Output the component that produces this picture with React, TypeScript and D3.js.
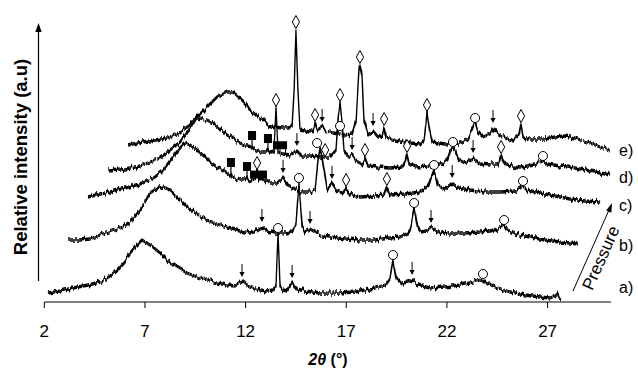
import * as d3 from "d3";

const W = 638;
const H = 370;
const FONT = "'Liberation Sans', Arial, Helvetica, sans-serif";

// x ticks (2θ, degrees)
const tickValues = [2, 7, 12, 17, 22, 27];
const seriesLabels = ["a)", "b)", "c)", "d)", "e)"];

// diffraction patterns: [2θ, relative intensity]
const patternA: [number, number][] = [
  [2.18, 1], [2.78, 3], [3.42, 6], [4.17, 9], [4.77, 12], [5.27, 18], [5.61, 24], [6.01, 33],
  [6.26, 41], [6.61, 49], [6.85, 54], [7.1, 51], [7.4, 47], [7.75, 41], [8.1, 34], [8.59, 27],
  [9.09, 21], [9.59, 17], [10.08, 14], [10.58, 11], [11.08, 9], [11.47, 8], [11.82, 12], [12.07, 8],
  [12.47, 5], [13.06, 3], [13.36, 4], [13.51, 9], [13.61, 61], [13.71, 9], [13.86, 4], [14.06, 3],
  [14.31, 11], [14.56, 5], [14.95, 3], [15.7, 1], [16.69, 1], [17.44, 2], [17.93, 4], [18.43, 6],
  [18.93, 9], [19.17, 16], [19.32, 34], [19.47, 16], [19.77, 10], [20.07, 11], [20.27, 14], [20.56, 9],
  [21.16, 6], [21.9, 7], [22.65, 9], [23.15, 11], [23.49, 13], [23.79, 15], [23.94, 12], [24.39, 7],
  [25.13, 2], [25.88, -1], [26.62, -3], [27.12, -4], [27.37, -2], [27.47, 1], [27.57, -4], [27.67, -5],
];

const patternB: [number, number][] = [
  [3.18, 4], [3.77, 4], [4.27, 5], [4.77, 9], [5.36, 13], [5.91, 17], [6.36, 24], [6.76, 34],
  [7.0, 42], [7.25, 51], [7.55, 55], [7.9, 57], [8.14, 55], [8.39, 51], [8.74, 44], [9.09, 37],
  [9.59, 30], [10.08, 24], [10.58, 20], [11.08, 17], [11.72, 14], [12.22, 12], [12.57, 14], [12.81, 17],
  [13.06, 13], [13.46, 11], [13.96, 11], [14.31, 12], [14.5, 19], [14.65, 61], [14.8, 19], [14.95, 12],
  [15.2, 15], [15.45, 12], [15.8, 8], [16.2, 7], [16.94, 5], [17.68, 4], [18.43, 4], [19.17, 6],
  [19.67, 7], [20.07, 11], [20.22, 19], [20.37, 36], [20.52, 19], [20.67, 12], [20.96, 13], [21.21, 16],
  [21.51, 12], [22.15, 11], [22.9, 11], [23.64, 12], [24.14, 13], [24.54, 15], [24.84, 19], [24.99, 14],
  [25.38, 10], [26.13, 7], [26.87, 4], [27.62, 2], [28.12, 1], [28.51, 0],
];

const patternC: [number, number][] = [
  [4.17, 5], [4.77, 8], [5.27, 10], [6.01, 14], [6.9, 19], [7.5, 25], [7.9, 32], [8.39, 45],
  [8.74, 54], [8.99, 59], [9.24, 57], [9.59, 52], [9.98, 45], [10.23, 40], [10.58, 35], [10.88, 32],
  [11.22, 27], [11.27, 28], [11.32, 25], [11.47, 24], [11.72, 22], [11.97, 22], [12.07, 24], [12.15, 21],
  [12.47, 23], [12.57, 31], [12.67, 22], [12.87, 23], [13.02, 21], [13.21, 19], [13.56, 19], [13.86, 24],
  [14.11, 17], [14.46, 13], [14.7, 10], [15.2, 10], [15.45, 12], [15.6, 42], [15.7, 54], [15.8, 44],
  [15.9, 32], [16.05, 12], [16.29, 18], [16.54, 11], [16.79, 9], [16.99, 14], [17.14, 8], [17.68, 5],
  [18.43, 6], [18.88, 7], [19.02, 15], [19.17, 7], [19.92, 8], [20.67, 10], [21.06, 16], [21.36, 32],
  [21.56, 16], [21.91, 13], [22.26, 19], [22.55, 14], [23.15, 12], [23.89, 10], [24.64, 10], [25.38, 11],
  [25.63, 14], [25.78, 16], [25.98, 12], [26.62, 9], [27.37, 6], [28.12, 3], [28.86, 1], [29.61, 0],
];

const patternD: [number, number][] = [
  [5.17, 3], [5.76, 4], [6.76, 8], [7.75, 16], [8.25, 24], [8.74, 32], [9.09, 41], [9.39, 51],
  [9.74, 56], [10.08, 54], [10.38, 51], [10.73, 45], [11.08, 39], [11.47, 34], [11.72, 31], [12.07, 28],
  [12.32, 27], [12.42, 25], [12.72, 22], [13.02, 22], [13.11, 24], [13.21, 22], [13.41, 23], [13.51, 66],
  [13.61, 22], [13.86, 20], [14.21, 19], [14.55, 23], [14.8, 18], [15.2, 18], [15.7, 17], [16.2, 17],
  [16.49, 24], [16.59, 54], [16.69, 71], [16.79, 52], [16.89, 24], [17.09, 17], [17.29, 19], [17.49, 13],
  [17.78, 10], [17.93, 16], [18.08, 8], [18.58, 7], [19.17, 6], [19.82, 7], [19.92, 12], [20.02, 20],
  [20.12, 11], [20.42, 7], [21.16, 8], [21.66, 9], [22.01, 14], [22.15, 22], [22.3, 27], [22.45, 22],
  [22.6, 14], [22.9, 11], [23.3, 16], [23.6, 11], [24.14, 10], [24.54, 10], [24.64, 16], [24.69, 19],
  [24.79, 13], [24.94, 9], [25.63, 7], [26.38, 9], [26.62, 12], [26.77, 13], [26.97, 10], [27.62, 8],
  [28.36, 6], [29.11, 3], [29.61, 1], [30.1, -1],
];

const patternE: [number, number][] = [
  [6.16, 5], [6.9, 8], [7.5, 10], [8.1, 12], [8.59, 16], [8.89, 20], [9.24, 25], [9.59, 33],
  [10.08, 43], [10.58, 53], [11.08, 58], [11.37, 58], [11.72, 52], [11.97, 47], [12.22, 40], [12.62, 33],
  [12.87, 30], [13.11, 25], [13.46, 23], [13.81, 22], [14.11, 22], [14.31, 23], [14.41, 60], [14.5, 120],
  [14.6, 60], [14.7, 20], [14.95, 19], [15.2, 18], [15.35, 20], [15.45, 27], [15.55, 20], [15.8, 23],
  [16.0, 19], [16.34, 17], [16.94, 15], [17.29, 16], [17.49, 30], [17.63, 80], [17.68, 85], [17.78, 75],
  [17.88, 30], [18.08, 15], [18.33, 19], [18.58, 13], [18.78, 14], [18.88, 23], [18.98, 13], [19.42, 10],
  [20.17, 7], [20.66, 6], [20.86, 10], [20.96, 25], [21.01, 37], [21.11, 22], [21.26, 8], [21.9, 6],
  [22.65, 7], [23.05, 11], [23.25, 20], [23.4, 27], [23.54, 18], [23.79, 13], [24.14, 16], [24.29, 22],
  [24.49, 17], [24.89, 12], [25.23, 9], [25.58, 15], [25.68, 26], [25.78, 13], [26.13, 11], [26.87, 11],
  [27.37, 13], [27.87, 14], [28.36, 12], [29.11, 7], [29.61, 3], [30.1, 0],
];

const patterns = [patternA, patternB, patternC, patternD, patternE];

type MarkKind = "diamond" | "circle" | "arrow" | "square";
// phase markers: series index, kind, 2θ
const marks: { s: number; kind: MarkKind; t: number; drop?: number }[] = [
  { s: 0, kind: "arrow", t: 11.82 }, { s: 0, kind: "circle", t: 13.61 }, { s: 0, kind: "arrow", t: 14.31 },
  { s: 0, kind: "circle", t: 19.32 }, { s: 0, kind: "arrow", t: 20.27 }, { s: 0, kind: "circle", t: 23.79 },
  { s: 1, kind: "arrow", t: 12.81 }, { s: 1, kind: "circle", t: 14.65 }, { s: 1, kind: "arrow", t: 15.2 },
  { s: 1, kind: "circle", t: 20.37 }, { s: 1, kind: "arrow", t: 21.21 }, { s: 1, kind: "circle", t: 24.84 },
  { s: 2, kind: "square", t: 11.27 }, { s: 2, kind: "square", t: 12.07 }, { s: 2, kind: "diamond", t: 12.57 },
  { s: 2, kind: "arrow", t: 13.86 }, { s: 2, kind: "circle", t: 15.55 }, { s: 2, kind: "diamond", t: 15.95 },
  { s: 2, kind: "arrow", t: 16.29 }, { s: 2, kind: "diamond", t: 16.99 }, { s: 2, kind: "diamond", t: 19.02 },
  { s: 2, kind: "circle", t: 21.36 }, { s: 2, kind: "arrow", t: 22.26 }, { s: 2, kind: "circle", t: 25.78 },
  { s: 3, kind: "square", t: 12.32 }, { s: 3, kind: "square", t: 13.11 }, { s: 3, kind: "diamond", t: 13.51 },
  { s: 3, kind: "arrow", t: 14.55 }, { s: 3, kind: "diamond", t: 16.69 }, { s: 3, kind: "circle", t: 16.69, drop: 28 },
  { s: 3, kind: "arrow", t: 17.29 }, { s: 3, kind: "diamond", t: 17.93 }, { s: 3, kind: "diamond", t: 20.02 },
  { s: 3, kind: "circle", t: 22.3 }, { s: 3, kind: "arrow", t: 23.3 }, { s: 3, kind: "diamond", t: 24.69 },
  { s: 3, kind: "circle", t: 26.77 },
  { s: 4, kind: "diamond", t: 14.5 }, { s: 4, kind: "diamond", t: 15.45 }, { s: 4, kind: "arrow", t: 15.8 },
  { s: 4, kind: "diamond", t: 17.68 }, { s: 4, kind: "arrow", t: 18.33 }, { s: 4, kind: "diamond", t: 18.88 },
  { s: 4, kind: "diamond", t: 21.01 }, { s: 4, kind: "circle", t: 23.4 }, { s: 4, kind: "arrow", t: 24.29 },
  { s: 4, kind: "diamond", t: 25.68 },
];
// groups of overlapping ■ markers: series, 2θ range
const squareGroups: { s: number; t0: number; t1: number }[] = [
  { s: 2, t0: 12.22, t1: 13.06 },
  { s: 3, t0: 13.36, t1: 14.06 },
];

// layout
const offsets = [8, 58, 100, 128, 152];
const labelBaselines = [293, 251, 211, 183, 156];
const axisY = 302;

export default function App() {
  const x = d3.scaleLinear().domain([2, 30.15]).range([44.3, 611]);
  const y = d3.scaleLinear().domain([0, 280]).range([axisY, 22]);

  const valueAt = (p: [number, number][], t: number) => {
    const i = d3.bisector((d: [number, number]) => d[0]).left(p, t);
    if (i <= 0) return p[0][1];
    if (i >= p.length) return p[p.length - 1][1];
    const [t0, v0] = p[i - 1];
    const [t1, v1] = p[i];
    return v0 + ((v1 - v0) * (t - t0)) / (t1 - t0);
  };
  const topAt = (s: number, t: number) => {
    const p = patterns[s];
    const near = p.filter((d) => Math.abs(d[0] - t) <= 0.16).map((d) => d[1]);
    const v = near.length ? Math.max(...near, valueAt(p, t)) : valueAt(p, t);
    return y(offsets[s] + v);
  };

  return (
    <svg
      width={W}
      height={H}
      style={{ position: "absolute", left: 0, top: 0, background: "#fff" }}
      fontFamily={FONT}
    >
      <defs>
        {/* vertical-only jitter to give the traces their noisy look */}
        <filter id="noisy" x="-2%" y="-15%" width="104%" height="130%">
          <feTurbulence type="fractalNoise" baseFrequency="0.45 0.02" numOctaves="2" seed="7" result="n" />
          <feColorMatrix
            in="n"
            type="matrix"
            values="0 0 0 0 0.5  0 1 0 0 0  0 0 1 0 0  0 0 0 0 1"
            result="ny"
          />
          <feDisplacementMap in="SourceGraphic" in2="ny" scale="7" xChannelSelector="R" yChannelSelector="G" result="d" />
          <feMorphology in="d" operator="dilate" radius="0 0.6" />
        </filter>
      </defs>

      {/* y axis */}
      <line x1={38.5} x2={38.5} y1={281} y2={30} stroke="#000" strokeWidth={1.2} />
      <path d="M38.5,23 L35.3,32 L41.7,32 Z" fill="#000" />
      <text
        transform="translate(27,157) rotate(-90)"
        textAnchor="middle"
        fontSize={18.5}
        fontWeight="bold"
      >
        Relative intensity (a.u)
      </text>

      {/* x axis */}
      <line x1={x(2)} x2={x(30.15)} y1={axisY} y2={axisY} stroke="#000" strokeWidth={1} />
      {tickValues.map((t) => (
        <g key={t}>
          <line x1={x(t)} x2={x(t)} y1={axisY} y2={axisY + 6} stroke="#000" />
          <text x={x(t)} y={337} textAnchor="middle" fontSize={17}>
            {t}
          </text>
        </g>
      ))}
      <text x={328} y={365} textAnchor="middle" fontSize={16} fontWeight="bold">
        <tspan fontStyle="italic">2θ</tspan> (°)
      </text>

      {/* patterns */}
      {patterns.map((p, s) => {
        const line = d3
          .line<[number, number]>()
          .x((d) => x(d[0]))
          .y((d) => y(offsets[s] + d[1]));
        return (
          <path
            key={s}
            d={line(p) ?? ""}
            fill="none"
            stroke="#000"
            strokeWidth={1.3}
            strokeLinejoin="round"
            filter="url(#noisy)"
          />
        );
      })}

      {/* ■ groups */}
      {squareGroups.map((g, i) => {
        const base = y(offsets[g.s] + valueAt(patterns[g.s], g.t0));
        return (
          <g key={`g${i}`}>
            {[g.t0 + 0.08, (g.t0 + g.t1) / 2, g.t1 - 0.08].map((t) => (
              <line key={t} x1={x(t)} x2={x(t)} y1={base - 4} y2={base + 2} stroke="#000" />
            ))}
            <rect x={x(g.t0)} y={base - 10} width={x(g.t1) - x(g.t0)} height={8} fill="#000" />
          </g>
        );
      })}

      {/* phase markers */}
      {marks.map((m, i) => {
        const cx = x(m.t);
        const top = topAt(m.s, m.t) + (m.drop ?? 0);
        if (m.kind === "diamond") {
          const cy = top - 8;
          return (
            <path
              key={i}
              d={`M${cx},${cy - 6.5} L${cx + 3.6},${cy} L${cx},${cy + 6.5} L${cx - 3.6},${cy} Z`}
              fill="#fff"
              stroke="#000"
              strokeWidth={1}
            />
          );
        }
        if (m.kind === "circle") {
          return <circle key={i} cx={cx} cy={top - 5} r={4.5} fill="#fff" stroke="#000" strokeWidth={1} />;
        }
        if (m.kind === "arrow") {
          const tip = top - 5;
          return (
            <g key={i}>
              <line x1={cx} x2={cx} y1={tip - 13} y2={tip - 4} stroke="#000" strokeWidth={1} />
              <path d={`M${cx - 2.6},${tip - 5} L${cx + 2.6},${tip - 5} L${cx},${tip} Z`} fill="#000" />
            </g>
          );
        }
        return (
          <g key={i}>
            <line x1={cx} x2={cx} y1={top - 7} y2={top} stroke="#000" strokeWidth={1.2} />
            <rect x={cx - 4} y={top - 16} width={8} height={9} fill="#000" />
          </g>
        );
      })}

      {/* series labels */}
      {seriesLabels.map((l, i) => (
        <text key={l} x={619} y={labelBaselines[i]} fontSize={16}>
          {l}
        </text>
      ))}

      {/* pressure arrow */}
      <line x1={573} y1={291} x2={609} y2={210} stroke="#000" strokeWidth={1} />
      <path d="M612,203 L606.2,210.5 L611.4,212.8 Z" fill="#000" />
      <text
        transform="translate(601,258) rotate(-66)"
        textAnchor="middle"
        dominantBaseline="central"
        fontSize={17}
      >
        Pressure
      </text>
    </svg>
  );
}
